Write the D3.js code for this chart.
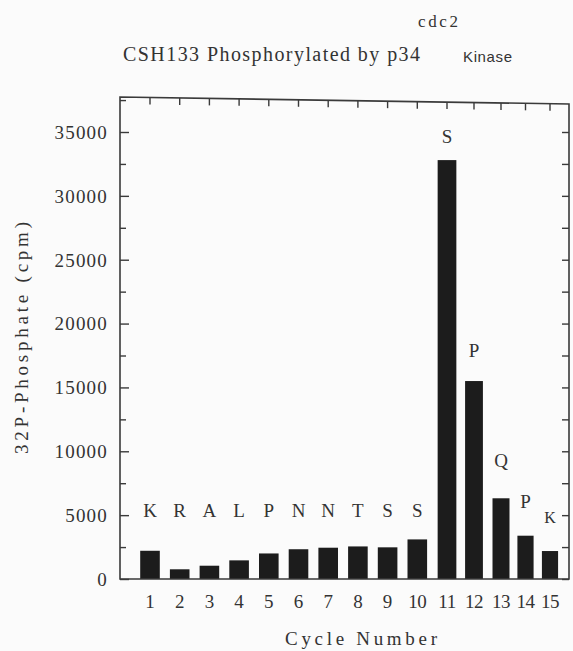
<!DOCTYPE html>
<html>
<head>
<meta charset="utf-8">
<script src="https://cdnjs.cloudflare.com/ajax/libs/d3/7.8.5/d3.min.js"></script>
<style>
  body { margin: 0; background: #fbfbfb; }
  svg { display: block; }
  text { font-family: "Liberation Serif", "DejaVu Serif", "Times New Roman", serif; fill: #333; }
</style>
</head>
<body>
<div id="chart"></div>
<script>
// Data
var cycles = [1, 2, 3, 4, 5, 6, 7, 8, 9, 10, 11, 12, 13, 14, 15];
var counts = [2210, 760, 1040, 1460, 2000, 2330, 2450, 2550, 2480, 3100, 32800, 15500, 6320, 3390, 2190];
var residues = ["K", "R", "A", "L", "P", "N", "N", "T", "S", "S", "S", "P", "Q", "P", "K"];
// height (cpm units) where each residue letter sits
var residueAt = [4850, 4850, 4850, 4850, 4850, 4850, 4850, 4850, 4850, 4850, 34150, 17400, 8750, 5560, 4400];
var yTicks = [0, 5000, 10000, 15000, 20000, 25000, 30000, 35000];

var svgWidth = 573;
var svgHeight = 651;

var svg = d3.select("#chart")
  .append("svg")
  .attr("width", svgWidth)
  .attr("height", svgHeight);

var frame = { left: 120, right: 569, bottom: 579, topL: 97, topR: 104 };

// the scan is slightly squeezed on the right, so the x scale is piecewise
var xScale = d3.scaleLinear()
  .domain([1, 11, 13, 15])
  .range([150, 447, 501, 550]);

var yScale = d3.scaleLinear()
  .domain([0, 35000])
  .range([frame.bottom, 132]);

function topAt(x) {
  return frame.topL + (x - frame.left) / (frame.right - frame.left) * (frame.topR - frame.topL);
}

function barWidth(c) {
  var lo = Math.max(1, c - 1), hi = Math.min(15, c + 1);
  return (xScale(hi) - xScale(lo)) / (hi - lo) * 0.66;
}

// Bars
svg.append("g").selectAll("rect")
  .data(cycles)
  .enter()
  .append("rect")
  .attr("x", d => xScale(d) - barWidth(d) / 2)
  .attr("width", d => barWidth(d))
  .attr("y", (d, i) => yScale(counts[i]))
  .attr("height", (d, i) => yScale(0) - yScale(counts[i]))
  .attr("fill", "#1c1c1c");

// Frame
var lineColor = "#3a3a3a";
svg.append("path")
  .attr("d", `M${frame.left},${frame.bottom} L${frame.left},${frame.topL} L${frame.right},${frame.topR} L${frame.right},${frame.bottom} Z`)
  .attr("fill", "none")
  .attr("stroke", lineColor)
  .attr("stroke-width", 1.6);

// Left axis (ticks inside)
var leftAxis = d3.axisRight(yScale)
  .tickValues(d3.range(0, 37501, 2500))
  .tickSize(6)
  .tickFormat("");
var leftG = svg.append("g")
  .attr("transform", `translate(${frame.left},0)`)
  .call(leftAxis);
leftG.select(".domain").remove();
leftG.selectAll(".tick line")
  .attr("x2", d => d % 5000 === 0 ? 9 : 6)
  .attr("stroke", lineColor)
  .attr("stroke-width", 1.4);

// Right axis (ticks inside)
var rightAxis = d3.axisLeft(yScale)
  .tickValues(d3.range(0, 37501, 2500).filter(d => yScale(d) > frame.topR + 4))
  .tickSize(7)
  .tickFormat("");
var rightG = svg.append("g")
  .attr("transform", `translate(${frame.right},0)`)
  .call(rightAxis);
rightG.select(".domain").remove();
rightG.selectAll(".tick line").attr("stroke", lineColor).attr("stroke-width", 1.4);

// Y tick labels
svg.append("g").selectAll("text")
  .data(yTicks)
  .enter()
  .append("text")
  .attr("x", 108)
  .attr("y", d => yScale(d))
  .attr("dy", "0.36em")
  .attr("text-anchor", "end")
  .attr("font-size", 19)
  .attr("letter-spacing", 1.2)
  .text(d => d);

// Top ticks at each cycle
svg.append("g").selectAll("line")
  .data(cycles)
  .enter()
  .append("line")
  .attr("x1", d => xScale(d))
  .attr("x2", d => xScale(d))
  .attr("y1", d => topAt(xScale(d)))
  .attr("y2", d => topAt(xScale(d)) + 7)
  .attr("stroke", lineColor)
  .attr("stroke-width", 1.4);

// Bottom tick labels
svg.append("g").selectAll("text")
  .data(cycles)
  .enter()
  .append("text")
  .attr("x", d => xScale(d))
  .attr("y", 608)
  .attr("text-anchor", "middle")
  .attr("font-size", 19)
  .attr("letter-spacing", d => d >= 10 ? -0.5 : 0)
  .text(d => d);

// Residue letters
svg.append("g").selectAll("text")
  .data(residues)
  .enter()
  .append("text")
  .attr("x", (d, i) => xScale(cycles[i]))
  .attr("y", (d, i) => yScale(residueAt[i]))
  .attr("text-anchor", "middle")
  .attr("font-size", (d, i) => i === 14 ? 16 : 19)
  .text(d => d);

// Titles
svg.append("text")
  .attr("x", 123)
  .attr("y", 61)
  .attr("font-size", 20)
  .attr("textLength", 297)
  .attr("lengthAdjust", "spacing")
  .text("CSH133 Phosphorylated by p34");

svg.append("text")
  .attr("x", 418)
  .attr("y", 27)
  .attr("font-size", 17)
  .attr("textLength", 40)
  .attr("lengthAdjust", "spacing")
  .text("cdc2");

svg.append("text")
  .attr("x", 463)
  .attr("y", 62)
  .attr("font-size", 15)
  .style("font-family", "'Liberation Sans', 'DejaVu Sans', sans-serif")
  .attr("textLength", 49)
  .attr("lengthAdjust", "spacing")
  .text("Kinase");

svg.append("text")
  .attr("transform", "translate(28, 338) rotate(-90)")
  .attr("text-anchor", "middle")
  .attr("font-size", 19)
  .attr("textLength", 232)
  .attr("lengthAdjust", "spacing")
  .text("32P-Phosphate (cpm)");

svg.append("text")
  .attr("x", 361)
  .attr("y", 645)
  .attr("text-anchor", "middle")
  .attr("font-size", 19)
  .attr("textLength", 152)
  .attr("lengthAdjust", "spacing")
  .text("Cycle Number");
</script>
</body>
</html>
